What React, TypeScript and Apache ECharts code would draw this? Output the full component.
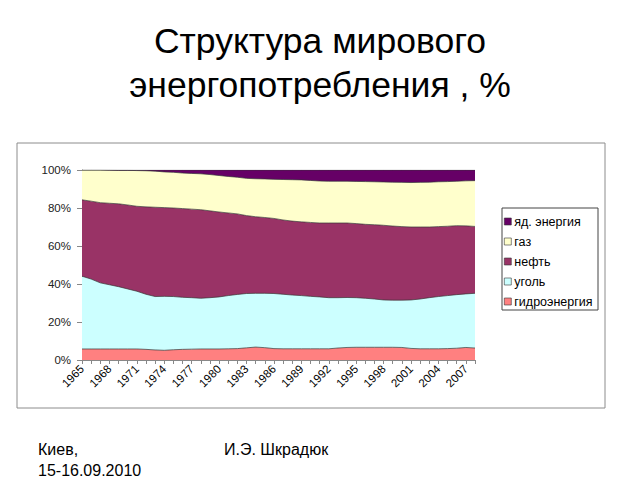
import React, { useEffect, useRef } from "react";
import * as echarts from "echarts";

const years: string[] = [];
for (let y = 1965; y <= 2008; y++) years.push(String(y));

const seriesNames = ["гидроэнергия", "уголь", "нефть", "газ", "яд. энергия"];
const legendOrder = ["яд. энергия", "газ", "нефть", "уголь", "гидроэнергия"];

const hydro = [
  5.8, 5.8, 5.8, 5.8, 5.8, 5.8, 5.8, 5.6, 5.3, 5.1, 5.4, 5.6, 5.7, 5.8, 5.8, 5.8,
  5.9, 6.0, 6.4, 6.8, 6.5, 6.0, 5.9, 5.9, 5.9, 5.9, 5.9, 5.9, 6.3, 6.6, 6.7, 6.7,
  6.7, 6.7, 6.7, 6.6, 6.1, 5.9, 5.9, 5.9, 6.0, 6.2, 6.6, 6.3,
];
const coal = [
  38.3, 36.8, 34.8, 33.8, 32.8, 31.6, 30.4, 29.0, 28.1, 28.4, 28.0, 27.4, 27.1, 26.7,
  27.0, 27.4, 28.0, 28.5, 28.6, 28.3, 28.6, 29.0, 28.7, 28.3, 28.0, 27.6, 27.3, 26.9,
  26.5, 26.3, 26.1, 25.8, 25.4, 24.9, 24.8, 24.9, 25.5, 26.2, 26.9, 27.5, 27.9, 28.2,
  28.2, 28.8,
];
const oil = [
  40.2, 41.0, 42.2, 42.9, 43.6, 44.2, 44.7, 46.0, 47.0, 46.7, 46.6, 46.7, 46.6, 46.6,
  45.7, 44.7, 43.5, 42.4, 41.0, 40.3, 39.9, 39.5, 39.1, 38.9, 38.8, 38.9, 38.9, 39.3,
  39.3, 39.2, 39.0, 38.9, 39.1, 39.3, 39.0, 38.7, 38.4, 37.9, 37.2, 36.8, 36.5, 36.3,
  35.8, 35.2,
];
const gas = [
  15.7, 16.4, 17.2, 17.4, 17.6, 18.2, 18.8, 19.0, 19.0, 18.8, 18.8, 18.7, 18.8, 18.9,
  19.1, 19.2, 19.2, 19.3, 19.6, 20.0, 20.3, 20.6, 21.3, 21.8, 22.1, 22.1, 22.1, 22.0,
  22.0, 22.0, 22.2, 22.5, 22.6, 22.8, 23.1, 23.3, 23.4, 23.5, 23.6, 23.6, 23.5, 23.4,
  23.7, 24.1,
];
const nuclear = [
  0, 0, 0, 0.1, 0.2, 0.2, 0.3, 0.4, 0.6, 1.0, 1.2, 1.6, 1.8, 2.0, 2.4, 2.9, 3.4, 3.8,
  4.4, 4.6, 4.7, 4.9, 5.0, 5.1, 5.2, 5.5, 5.8, 5.9, 5.9, 5.9, 6.0, 6.1, 6.2, 6.3, 6.4,
  6.5, 6.6, 6.5, 6.4, 6.2, 6.1, 5.9, 5.7, 5.6,
];

const colors = ["#FF8080", "#CCFFFF", "#993366", "#FFFFCC", "#660066"];
const dataSets = [hydro, coal, oil, gas, nuclear];

const FONT = "'Liberation Sans', Arial, sans-serif";

export default function App() {
  const ref = useRef<HTMLDivElement>(null);
  useEffect(() => {
    if (!ref.current) return;
    const chart = echarts.init(ref.current, undefined, { renderer: "svg" });
    chart.setOption({
      animation: false,
      backgroundColor: "#ffffff",
      textStyle: { fontFamily: FONT },
      grid: { left: 82, top: 170, width: 393, height: 190, containLabel: false },
      legend: {
        orient: "vertical",
        left: 504,
        top: 215,
        data: legendOrder,
        icon: "rect",
        itemWidth: 7,
        itemHeight: 7,
        itemGap: 7,
        padding: 0,
        textStyle: { fontSize: 12.5, color: "#000", fontFamily: FONT, lineHeight: 12, padding: [0, 0, 0, -2] },
        itemStyle: { borderColor: "#333", borderWidth: 0.6 },
      },
      xAxis: {
        type: "category",
        data: years,
        boundaryGap: false,
        axisLine: { lineStyle: { color: "#888", width: 1 } },
        axisTick: { show: true, interval: 0, length: 4, lineStyle: { color: "#888" } },
        axisLabel: { interval: 2, rotate: 45, fontSize: 11.5, color: "#000", margin: 7, fontFamily: FONT },
        splitLine: { show: false },
      },
      yAxis: {
        type: "value",
        min: 0,
        max: 100,
        interval: 20,
        axisLine: { show: true, lineStyle: { color: "#888", width: 1 } },
        axisTick: { show: true, length: 5, lineStyle: { color: "#888" } },
        axisLabel: { formatter: "{value}%", fontSize: 11.5, color: "#222", margin: 11, fontFamily: FONT },
        splitLine: { show: false },
      },
      series: seriesNames.map((name, i) => ({
        name,
        type: "line",
        stack: "total",
        data: dataSets[i],
        showSymbol: false,
        symbol: "none",
        smooth: false,
        lineStyle: { color: "#333", width: 0.7 },
        itemStyle: { color: colors[i] },
        areaStyle: { color: colors[i], opacity: 1 },
        z: 2,
      })),
      graphic: [
        {
          type: "rect",
          shape: { x: 17, y: 143, width: 588, height: 265 },
          style: { fill: "none", stroke: "#8c8c8c", lineWidth: 1 },
          silent: true,
          z: -1,
        },
        {
          type: "rect",
          shape: { x: 502, y: 208, width: 96, height: 102 },
          style: { fill: "none", stroke: "#444", lineWidth: 1 },
          silent: true,
        },
        {
          type: "text",
          x: 320,
          y: 41,
          style: { text: "Структура мирового", fontSize: 35.5, fontFamily: FONT, fill: "#000", align: "center", verticalAlign: "middle" },
        },
        {
          type: "text",
          x: 320,
          y: 85,
          style: { text: "энергопотребления , %", fontSize: 35.5, fontFamily: FONT, fill: "#000", align: "center", verticalAlign: "middle" },
        },
        {
          type: "text",
          x: 38,
          y: 449,
          style: { text: "Киев,", fontSize: 16, fontFamily: FONT, fill: "#000", align: "left", verticalAlign: "middle" },
        },
        {
          type: "text",
          x: 38,
          y: 470,
          style: { text: "15-16.09.2010", fontSize: 16, fontFamily: FONT, fill: "#000", align: "left", verticalAlign: "middle" },
        },
        {
          type: "text",
          x: 224,
          y: 449,
          style: { text: "И.Э. Шкрадюк", fontSize: 16, fontFamily: FONT, fill: "#000", align: "left", verticalAlign: "middle" },
        },
      ],
    });
    return () => chart.dispose();
  }, []);
  return (
    <div
      ref={ref}
      style={{ position: "fixed", left: 0, top: 0, width: 640, height: 480, background: "#fff" }}
    />
  );
}
